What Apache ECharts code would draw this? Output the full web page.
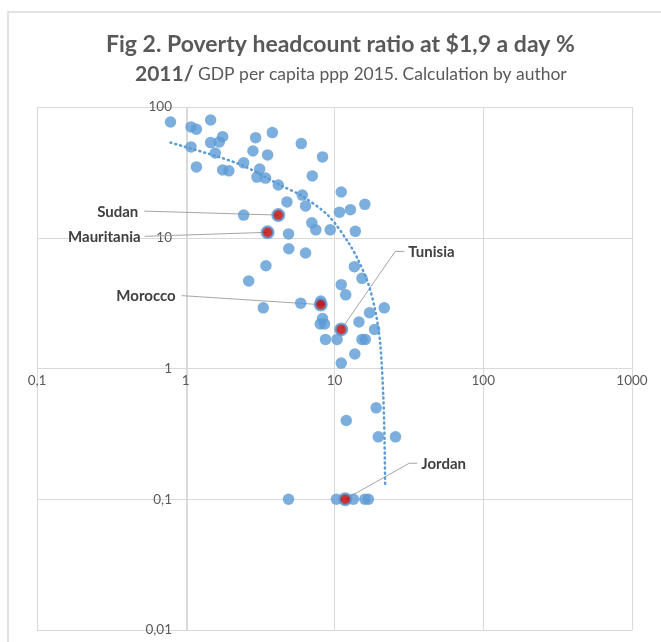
<!DOCTYPE html>
<html>
<head>
<meta charset="utf-8">
<script src="https://cdn.jsdelivr.net/npm/echarts@6/dist/echarts.min.js"></script>
<style>
html,body{margin:0;padding:0;background:#fff;}
#chart{width:661px;height:642px;}
</style>
</head>
<body>
<div id="chart"></div>
<script>
// GDP per capita (x) and poverty headcount ratio % (y)
var xVals = [0.79,1.085,1.18,1.47,1.085,1.47,1.68,1.77,1.58,1.18,1.77,1.95,2.45,2.83,2.95,3.55,3.82,3.14,3.01,3.44,4.19,5.98,8.31,7.09,4.79,6.07,6.39,7.04,7.49,9.36,11.1,10.8,12.8,13.8,16.0,4.91,2.45,
  4.93,6.39,3.46,2.65,3.32,13.6,15.3,11.1,11.9,21.6,17.2,5.93,8.08,8.31,8.02,8.57,14.6,18.6,8.70,10.4,15.3,16.1,13.7,11.1,
  19.05,12.0,19.7,25.7,4.91,10.3,13.4,16.0,16.9];
var yVals = [76.8,70.4,67.6,79.6,49.5,53.4,54.1,59.3,44.5,34.8,33.0,32.5,37.4,46.1,58.3,43.0,63.7,33.5,29.1,28.6,25.3,52.5,41.5,29.7,18.8,21.2,17.5,13.0,11.5,11.5,22.4,15.7,16.4,11.2,18.0,10.7,14.9,
  8.24,7.64,6.11,4.67,2.91,6.01,4.89,4.38,3.66,2.91,2.67,3.16,3.28,2.41,2.19,2.19,2.27,1.99,1.67,1.67,1.67,1.67,1.29,1.10,
  0.50,0.40,0.30,0.30,0.1,0.1,0.1,0.1,0.1];

// highlighted countries
var hlNames = ['Sudan','Mauritania','Morocco','Tunisia','Jordan'];
var hlX = [4.19,3.55,8.08,11.1,11.8];
var hlY = [14.9,11.0,3.08,1.99,0.1];

// dotted trend line
var trendX = [0.79,1.58,2.45,4.43,6.04,9.12,12.4,14.5,16.9,18.8,20.3,21.3,21.7,21.9];
var trendY = [53.4,42.3,35.4,24.9,20.9,14.7,9.2,6.67,4.43,2.77,1.55,0.60,0.28,0.124];

// axis tick values
var xTicks = [0.1,1,10,100,1000];
var yTicks = [0.01,0.1,1,10,100];

function pairs(a,b){ return a.map(function(v,i){ return [v,b[i]]; }); }
function fmt(v){ return String(+v.toPrecision(6)).replace('.', ','); }

var chart = echarts.init(document.getElementById('chart'), null, {renderer:'canvas'});
var FONT = 'Lato, "Open Sans", sans-serif';

var option = {
  backgroundColor:'#ffffff',
  animation:false,
  title:[
    {
      left:101, top:28,
      text:'Fig 2. Poverty headcount ratio at $1,9 a day %',
      textStyle:{fontFamily:FONT,fontSize:23,fontWeight:'bold',color:'#595959'}
    },
    {
      left:130, top:56,
      text:'{c|2011/}{b| GDP per capita ppp 2015. Calculation by author}',
      textStyle:{
        rich:{
          c:{fontFamily:FONT,fontSize:21,fontWeight:'bold',color:'#595959',lineHeight:26},
          b:{fontFamily:FONT,fontSize:17.5,fontWeight:'normal',color:'#595959',lineHeight:26}
        }
      }
    }
  ],
  grid:{left:37,right:29,top:107,bottom:12,containLabel:false},
  xAxis:{
    type:'log', logBase:10, min:xTicks[0], max:xTicks[xTicks.length-1],
    position:'bottom', offset:-262,
    axisLine:{show:true,lineStyle:{color:'#d9d9d9',width:1}},
    axisTick:{show:false},
    axisLabel:{color:'#595959',fontFamily:FONT,fontSize:13.5,margin:6,formatter:fmt,showMinLabel:true,showMaxLabel:true},
    splitLine:{show:true,lineStyle:{color:'#d9d9d9',width:1}}
  },
  yAxis:{
    type:'log', logBase:10, min:yTicks[0], max:yTicks[yTicks.length-1],
    position:'left', offset:-150,
    axisLine:{show:true,lineStyle:{color:'#d9d9d9',width:1}},
    axisTick:{show:false},
    axisLabel:{color:'#595959',fontFamily:FONT,fontSize:13.5,margin:15,formatter:fmt,showMinLabel:true,showMaxLabel:true},
    splitLine:{show:true,lineStyle:{color:'#d9d9d9',width:1}}
  },
  series:[
    {
      name:'countries', type:'scatter', data:pairs(xVals,yVals),
      symbol:'circle', symbolSize:11.5,
      itemStyle:{color:'#5B9BD5'}, z:2
    },
    {
      name:'highlighted', type:'scatter', data:pairs(hlX,hlY),
      symbol:'circle', symbolSize:11.5,
      itemStyle:{color:'#C00000',borderColor:'#5B9BD5',borderWidth:2.5}, z:3
    },
    {
      name:'trend', type:'line', data:pairs(trendX,trendY),
      smooth:0.3, showSymbol:false, symbol:'none',
      lineStyle:{color:'#5B9BD5',width:2.5,type:[1,4],cap:'round'}, z:4
    }
  ]
};
chart.setOption(option);

// leader-line annotations, positioned relative to each highlighted point
var placement = {
  Sudan:      {tx:-140, ty:-3,  align:'right', line:[[-134,-4],[0,0]]},
  Mauritania: {tx:-127, ty:5,   align:'right', line:[[-123,4],[0,0]]},
  Morocco:    {tx:-145, ty:-8,  align:'right', line:[[-139,-9],[0,0]]},
  Tunisia:    {tx:67,   ty:-77, align:'left',  line:[[63,-78],[54,-78],[0,0]]},
  Jordan:     {tx:76,   ty:-35, align:'left',  line:[[72,-36],[64,-36],[0,0]]}
};
var elements = [];
hlNames.forEach(function(name,i){
  var p = chart.convertToPixel({gridIndex:0},[hlX[i],hlY[i]]);
  var pl = placement[name];
  elements.push({
    type:'polyline', silent:true, z:1,
    shape:{points:pl.line.map(function(d){return [p[0]+d[0],p[1]+d[1]];})},
    style:{stroke:'#a6a6a6',lineWidth:1,fill:null}
  });
  elements.push({
    type:'text', silent:true, z:5,
    x:p[0]+pl.tx, y:p[1]+pl.ty,
    style:{text:name,fill:'#404040',font:'bold 15px '+FONT,align:pl.align,verticalAlign:'middle'}
  });
});
// outer chart frame
elements.push({type:'polyline',silent:true,z:0,shape:{points:[[8,700],[8,12],[700,12]]},style:{stroke:'#d9d9d9',lineWidth:1.5,fill:null}});
chart.setOption({graphic:{elements:elements}});
</script>
</body>
</html>
